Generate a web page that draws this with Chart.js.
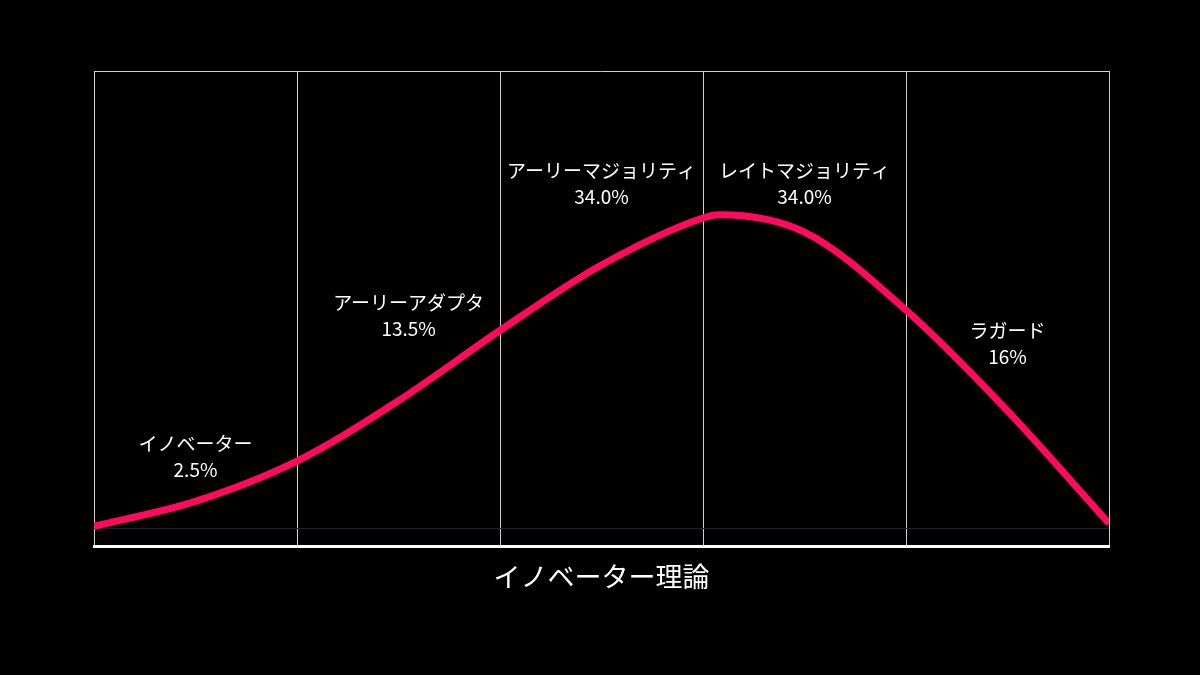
<!DOCTYPE html>
<html><head><meta charset="utf-8">
<script src="https://cdn.jsdelivr.net/npm/chart.js@4"></script>
<style>html,body{margin:0;background:#000}#w{width:1200px;height:675px}</style>
</head><body><div id="w"><canvas id="c"></canvas></div>
<script>
const curveX = [0,0.5,1,1.5,2,2.5,3,3.08,3.5,4,4.5,5];
const curveY = [0.6,7.5,18.6,35.3,54.7,72.8,85.8,86.7,81.9,60.3,32.5,1.4];
const segNames = ['イノベーター','アーリーアダプタ','アーリーマジョリティ','レイトマジョリティ','ラガード'];
const segShares = ['2.5%','13.5%','34.0%','34.0%','16%'];
const labelX = [0.5,1.55,2.5,3.5,4.5];
const labelY = [23.3,62.5,98.9,98.9,54.7];
const F = '"Noto Sans CJK JP","Noto Sans",sans-serif';
const labelsPlugin = {id:'lbl', afterDatasetsDraw(ch){
  const c=ch.ctx, xs=ch.scales.x, ys=ch.scales.y;
  c.save(); c.fillStyle='#fff'; c.font='19px '+F; c.textAlign='center'; c.textBaseline='middle';
  segNames.forEach((n,i)=>{const px=xs.getPixelForValue(labelX[i]), py=ys.getPixelForValue(labelY[i]);
    c.fillText(n,px,py); c.fillText(segShares[i],px,py+26);});
  c.restore();
}};
new Chart(document.getElementById('c'),{
  type:'line',
  data:{datasets:[{data:curveX.map((x,i)=>({x,y:curveY[i]})),borderColor:'#ff0a5f',borderWidth:7,pointRadius:0,tension:0.4,cubicInterpolationMode:'monotone'}]},
  options:{responsive:true,maintainAspectRatio:false,animation:false,
    layout:{padding:{left:94,right:91,top:71,bottom:78}},
    plugins:{legend:{display:false},tooltip:{enabled:false}},
    scales:{
      x:{type:'linear',min:0,max:5,ticks:{display:false,stepSize:1},
        grid:{color:'#cfcfcf',lineWidth:1,drawTicks:false},
        border:{color:'#ffffff',width:3},
        title:{display:true,text:'イノベーター理論',color:'#fff',font:{family:F,size:27},padding:{top:14}}},
      y:{min:-5,max:126.4,ticks:{display:false,stepSize:5},
        grid:{drawTicks:false,color:c=>c.tick.value===0?'#1e2436':'rgba(0,0,0,0)'},
        border:{display:false}}
    }},
  plugins:[labelsPlugin,{id:'top',afterDraw(ch){const a=ch.chartArea,c=ch.ctx;c.save();c.strokeStyle='#cfcfcf';c.lineWidth=1;c.beginPath();c.moveTo(a.left,a.top+0.5);c.lineTo(a.right,a.top+0.5);c.stroke();c.restore();}}]
});
</script></body></html>
